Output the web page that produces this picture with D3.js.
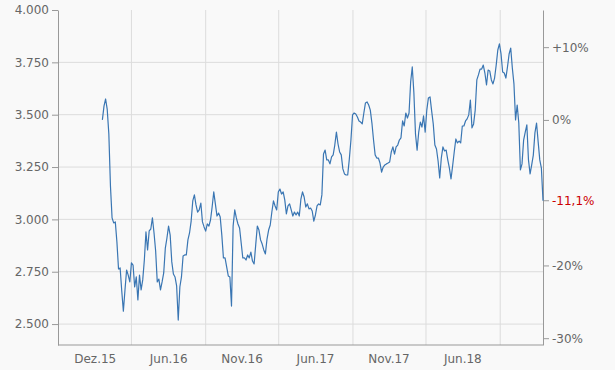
<!DOCTYPE html>
<html lang="de">
<head>
<meta charset="UTF-8">
<script src="https://d3js.org/d3.v7.min.js"></script>
<style>
  body { margin: 0; background: #f9f9f9; font-family: "DejaVu Sans", Verdana, sans-serif; }
  svg { display: block; }
  .axis text { fill: #666; font-size: 12px; font-family: "DejaVu Sans", Verdana, sans-serif; }
  .axis path, .axis line { stroke: #999; }
  .grid line { stroke: #dcdcdc; }
</style>
</head>
<body>
<svg width="615" height="370"></svg>
<script>
// Kursverlauf, ein Wert alle 4 Tage ab 20.12.2015
const startDate = "2015-12-20";
const stepDays = 4;
const values = [
  3.475, 3.541, 3.575, 3.525, 3.408, 3.159, 3.007, 2.983, 2.988, 2.892,
  2.763, 2.768, 2.658, 2.562, 2.663, 2.758, 2.734, 2.701, 2.792, 2.782,
  2.677, 2.725, 2.615, 2.734, 2.663, 2.711, 2.806, 2.940, 2.854, 2.945,
  2.954, 3.007, 2.935, 2.849, 2.701, 2.715, 2.663, 2.701, 2.744, 2.863,
  2.911, 2.968, 2.925, 2.797, 2.739, 2.725, 2.682, 2.519, 2.677, 2.725,
  2.825, 2.830, 2.830, 2.902, 2.935, 2.992, 3.088, 3.117, 3.069, 3.035,
  3.045, 3.078, 2.988, 2.964, 2.944, 2.978, 2.968, 2.997, 3.059, 3.131,
  3.074, 3.016, 3.030, 3.011, 2.925, 2.816, 2.816, 2.773, 2.730, 2.725,
  2.586, 2.968, 3.045, 3.007, 2.978, 2.959, 2.887, 2.816, 2.816, 2.806,
  2.830, 2.816, 2.844, 2.801, 2.787, 2.878, 2.968, 2.949, 2.902, 2.882,
  2.854, 2.835, 2.906, 2.949, 2.973, 3.035, 3.088, 3.064, 3.045, 3.131,
  3.145, 3.121, 3.131, 3.093, 3.026, 3.064, 3.074, 3.045, 3.016, 3.035,
  3.021, 3.035, 3.016, 3.097, 3.131, 3.107, 3.059, 3.074, 3.050, 3.054,
  3.040, 2.992, 3.021, 3.064, 3.074, 3.069, 3.117, 3.312, 3.331, 3.284,
  3.284, 3.265, 3.298, 3.308, 3.355, 3.417, 3.360, 3.322, 3.308, 3.241,
  3.217, 3.212, 3.212, 3.288, 3.379, 3.499, 3.508, 3.503, 3.489, 3.470,
  3.465, 3.456, 3.508, 3.556, 3.561, 3.546, 3.522, 3.460, 3.379, 3.308,
  3.293, 3.293, 3.269, 3.226, 3.250, 3.260, 3.265, 3.269, 3.274, 3.322,
  3.346, 3.312, 3.346, 3.355, 3.379, 3.389, 3.470, 3.446, 3.508, 3.484,
  3.508, 3.656, 3.728, 3.604, 3.408, 3.331, 3.417, 3.465, 3.441, 3.494,
  3.417, 3.522, 3.580, 3.585, 3.518, 3.456, 3.355, 3.336, 3.279, 3.198,
  3.293, 3.346, 3.327, 3.331, 3.284, 3.245, 3.193, 3.255, 3.322, 3.384,
  3.365, 3.374, 3.365, 3.446, 3.446, 3.470, 3.480, 3.499, 3.570, 3.437,
  3.456, 3.522, 3.666, 3.690, 3.718, 3.718, 3.737, 3.699, 3.642, 3.713,
  3.709, 3.666, 3.647, 3.675, 3.737, 3.809, 3.838, 3.790, 3.704, 3.699,
  3.675, 3.728, 3.790, 3.818, 3.723, 3.647, 3.475, 3.546, 3.460, 3.236,
  3.265, 3.379, 3.417, 3.451, 3.284, 3.217, 3.260, 3.307, 3.413, 3.460,
  3.370, 3.284, 3.245, 3.089
];

const domainStart = "2015-09-01";
const gridDates = ["2016-03-01", "2016-09-01", "2017-03-01", "2017-09-01", "2018-03-01", "2018-09-01"];
const labelDates = ["2015-12-01", "2016-05-31", "2016-11-29", "2017-05-30", "2017-11-28", "2018-05-30"];
const labelTexts = ["Dez.15", "Jun.16", "Nov.16", "Jun.17", "Nov.17", "Jun.18"];
const yTicks = [2.5, 2.75, 3.0, 3.25, 3.5, 3.75, 4.0];
const pctTicks = [0.10, 0, -0.20, -0.30];

const parse = d3.timeParse("%Y-%m-%d");
const t0 = parse(startDate);
const data = values.map((v, i) => ({ date: d3.timeDay.offset(t0, i * stepDays), value: v }));

const svg = d3.select("svg"),
    margin = { top: 10, right: 72, bottom: 25, left: 58 },
    width = +svg.attr("width") - margin.left - margin.right,
    height = +svg.attr("height") - margin.top - margin.bottom,
    g = svg.append("g").attr("transform", `translate(${margin.left},${margin.top})`);

const x = d3.scaleTime()
    .domain([parse(domainStart), data[data.length - 1].date])
    .range([0, width]);

const y = d3.scaleLinear()
    .domain([2.4, 4.0])
    .range([height, 0]);

// Gitternetz
g.append("g").attr("class", "grid")
  .selectAll("line").data(yTicks.filter(d => d < 4))
  .enter().append("line")
    .attr("x1", 0).attr("x2", width)
    .attr("y1", d => y(d)).attr("y2", d => y(d));

g.append("g").attr("class", "grid")
  .selectAll("line").data(gridDates.map(parse))
  .enter().append("line")
    .attr("x1", d => x(d)).attr("x2", d => x(d))
    .attr("y1", 0).attr("y2", height);

// Achsen
const fmt = d3.formatLocale({ decimal: ",", thousands: ".", grouping: [3], currency: ["", "€"], minus: "-" });

g.append("g").attr("class", "axis")
  .call(d3.axisLeft(y).tickValues(yTicks).tickSizeInner(6).tickSizeOuter(0).tickPadding(3)
    .tickFormat(d3.format(".3f")));

g.append("g").attr("class", "axis")
  .attr("transform", `translate(0,${height})`)
  .call(d3.axisBottom(x).tickValues(labelDates.map(parse)).tickSize(0).tickPadding(9)
    .tickFormat((d, i) => labelTexts[i]))
  .call(a => a.select(".domain").attr("d", `M0,0H${width}`));

const base = values[0];
const last = values[values.length - 1];
const lastPct = last / base - 1;
const pctFmt = p => (p > 0 ? "+" : "") + fmt.format(",.0f")(p * 100) + "%";

const right = g.append("g").attr("class", "axis")
  .attr("transform", `translate(${width},0)`)
  .call(d3.axisRight(y).tickValues(pctTicks.map(p => base * (1 + p))).tickSizeInner(6).tickSizeOuter(0).tickPadding(3)
    .tickFormat((d, i) => pctFmt(pctTicks[i])));

const lastTick = right.append("g").attr("transform", `translate(0,${y(last)})`);
lastTick.append("line").attr("x2", 6).attr("stroke", "#999");
lastTick.append("text")
  .attr("x", 9).attr("dy", "0.32em")
  .style("fill", "#cc0000")
  .text(fmt.format(",.1f")(lastPct * 100) + "%");

// Linie
g.append("path")
  .datum(data)
  .attr("fill", "none")
  .attr("stroke", "#3a76b3")
  .attr("stroke-width", 1.2)
  .attr("stroke-linejoin", "round")
  .attr("d", d3.line().x(d => x(d.date)).y(d => y(d.value)));
</script>
</body>
</html>
